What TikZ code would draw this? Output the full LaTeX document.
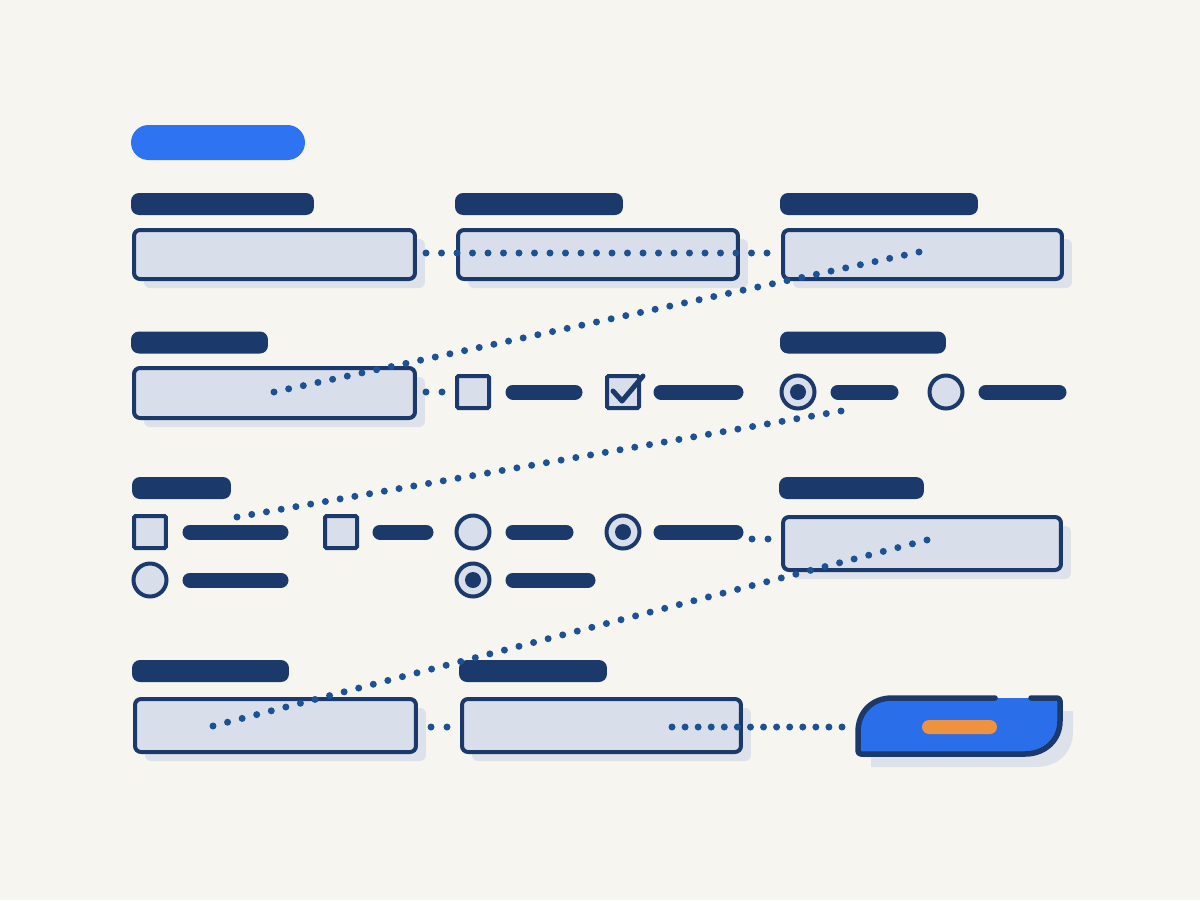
\documentclass[tikz,border=0pt]{standalone}
\usetikzlibrary{calc,shadows}
\definecolor{bg}{HTML}{F7F5EF}
\definecolor{navy}{HTML}{1B3A6B}
\definecolor{boxf}{HTML}{D9DFEA}
\definecolor{shd}{HTML}{DDE1EA}
\definecolor{dotc}{HTML}{1D5195}
\definecolor{pill}{HTML}{2D73F2}
\definecolor{btn}{HTML}{2A6EEA}
\definecolor{orng}{HTML}{EE9240}
\newcommand\dotrow[3]{\foreach \k in {0,...,#3}{\fill[dotc] ($(#1)!\k/#3!(#2)$) circle[radius=3.5];}}
\begin{document}
\begin{tikzpicture}[x=0.02cm,y=-0.02cm,
  lbl/.style={fill=navy, rounded corners=0.16cm, minimum height=0.44cm, inner sep=0pt},
  inp/.style={draw=navy, fill=boxf, line width=0.08cm, rounded corners=0.12cm, inner sep=0pt,
     general shadow={shadow xshift=0.2cm, shadow yshift=-0.18cm, fill=shd}},
  chk/.style={draw=navy, fill=boxf, line width=0.08cm, rounded corners=0.03cm, minimum size=0.64cm, inner sep=0pt},
  radio/.style={circle, draw=navy, fill=boxf, line width=0.08cm, minimum size=0.66cm, inner sep=0pt},
  bar/.style={navy, line width=0.3cm, line cap=round},
]
\useasboundingbox[fill=bg] (0,0) rectangle (1200,900);

% title pill
\node[fill=pill, rounded corners=0.35cm, minimum width=3.48cm, minimum height=0.70cm, inner sep=0pt] (title) at (218,142.5) {};

% labels
\node[lbl, minimum width=3.66cm] (l1) at (222.5,204) {};
\node[lbl, minimum width=3.36cm] (l2) at (539,204) {};
\node[lbl, minimum width=3.96cm] (l3) at (879,204) {};
\node[lbl, minimum width=2.74cm] (l4) at (199.5,342.5) {};
\node[lbl, minimum width=3.32cm] (l5) at (863,342.5) {};
\node[lbl, minimum width=1.98cm] (l6) at (181.5,488) {};
\node[lbl, minimum width=2.90cm] (l7) at (851.5,488) {};
\node[lbl, minimum width=3.14cm] (l8) at (210.5,671) {};
\node[lbl, minimum width=2.96cm] (l9) at (533,671) {};

% input boxes
\node[inp, minimum width=5.62cm, minimum height=0.98cm] (b1) at (274.5,254.5) {};
\node[inp, minimum width=5.60cm, minimum height=0.98cm] (b2) at (598,254.5) {};
\node[inp, minimum width=5.58cm, minimum height=0.98cm] (b3) at (922.5,254.5) {};
\node[inp, minimum width=5.62cm, minimum height=1.00cm] (b4) at (274.5,393) {};
\node[inp, minimum width=5.56cm, minimum height=1.06cm] (b5) at (922,543.5) {};
\node[inp, minimum width=5.62cm, minimum height=1.06cm] (b6) at (275.5,725.5) {};
\node[inp, minimum width=5.58cm, minimum height=1.06cm] (b7) at (601.5,725.5) {};

% checkboxes
\node[chk] (c1) at (473,392) {};
\node[chk] (c2) at (623,392) {};
\node[chk] (c3) at (150,532) {};
\node[chk] (c4) at (341,532) {};
\draw[navy, line width=0.1cm, line cap=round, line join=round] (613,391) -- (622,401) -- (643,376);

% radios
\node[radio] (r1) at (798,392) {};
\node[radio] (r2) at (946,392) {};
\node[radio] (r3) at (473,532) {};
\node[radio] (r4) at (623,532) {};
\node[radio] (r5) at (150,580) {};
\node[radio] (r6) at (473,580) {};
\foreach \r in {r1,r4,r6} \fill[navy] (\r) circle[radius=8];

% option text bars
\draw[bar] (513,392) -- (575,392);
\draw[bar] (661,392) -- (736,392);
\draw[bar] (838,392) -- (891,392);
\draw[bar] (986,392) -- (1059,392);
\draw[bar] (190,532) -- (281,532);
\draw[bar] (380,532) -- (426,532);
\draw[bar] (513,532) -- (566,532);
\draw[bar] (661,532) -- (736,532);
\draw[bar] (190,580) -- (281,580);
\draw[bar] (513,580) -- (588,580);

% button
\fill[shd] (871,767) -- (871,748) .. controls (871,725) and (885,711) .. (908,711) -- (1073,711) -- (1073,731) .. controls (1073,753) and (1058,767) .. (1035,767) -- cycle;
\fill[btn] (858,754) -- (858,735) .. controls (858,712) and (872,698) .. (895,698) -- (1060,698) -- (1060,718) .. controls (1060,740) and (1045,754) .. (1022,754) -- cycle;
\draw[navy, line width=0.11cm, line cap=round, line join=round, rounded corners=0.06cm] (1031,698) -- (1060,698) -- (1060,718) .. controls (1060,740) and (1045,754) .. (1022,754) -- (858,754) -- (858,735) .. controls (858,712) and (872,698) .. (895,698) -- (995,698);
\node[fill=orng, rounded corners=0.14cm, minimum width=1.50cm, minimum height=0.28cm, inner sep=0pt] (btnlbl) at (959.5,727) {};

% dotted connectors
\coordinate (d1a) at (426,253); \coordinate (d1b) at (767,253);
\coordinate (d2a) at (274,392); \coordinate (d2b) at (919,252);
\coordinate (d3a) at (426,392); \coordinate (d3b) at (442,392);
\coordinate (d4a) at (237,517); \coordinate (d4b) at (841,411);
\coordinate (d5a) at (752,539); \coordinate (d5b) at (768,539);
\coordinate (d6a) at (213,726); \coordinate (d6b) at (927,540);
\coordinate (d7a) at (431,727); \coordinate (d7b) at (447,727);
\coordinate (d8a) at (672,727); \coordinate (d8b) at (842,727);
\dotrow{d1a}{d1b}{22}
\dotrow{d2a}{d2b}{44}
\dotrow{d3a}{d3b}{1}
\dotrow{d4a}{d4b}{41}
\dotrow{d5a}{d5b}{1}
\dotrow{d6a}{d6b}{49}
\dotrow{d7a}{d7b}{1}
\dotrow{d8a}{d8b}{13}
\end{tikzpicture}
\end{document}
